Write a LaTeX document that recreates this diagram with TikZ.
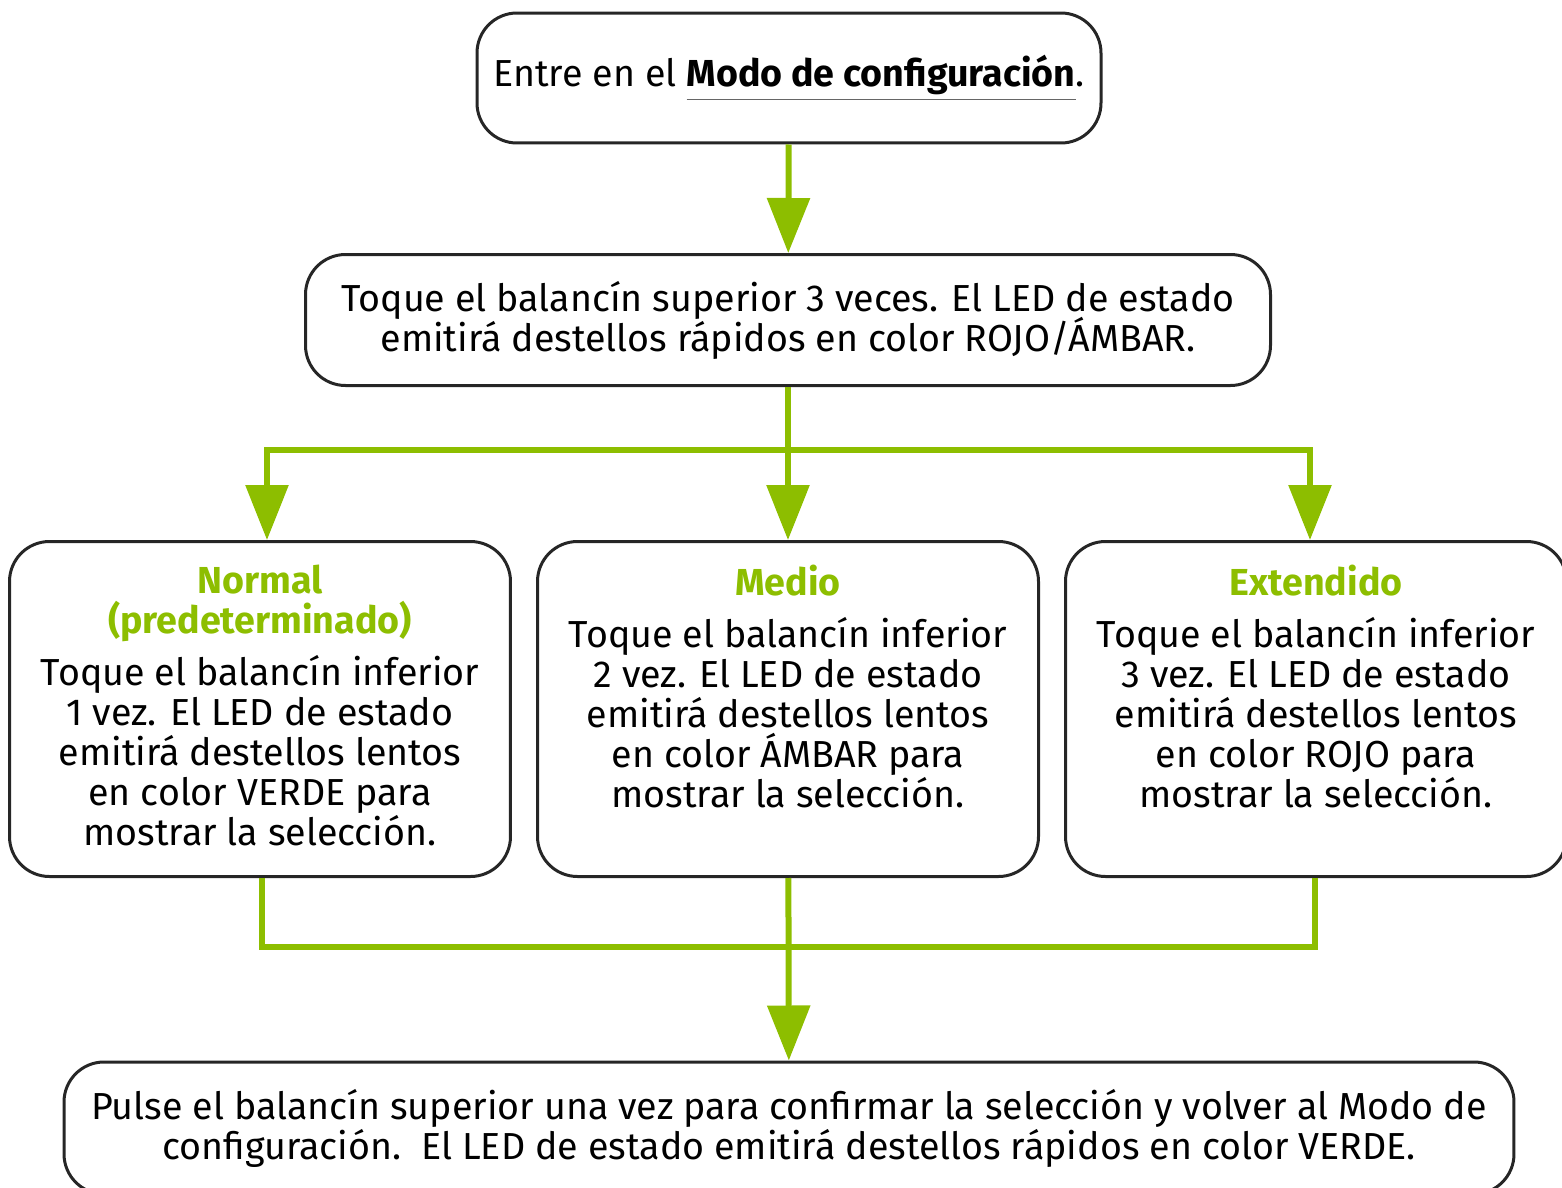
\documentclass[tikz,border=0pt]{standalone}
\usepackage{fontspec}
\setmainfont{Fira Sans}
\usetikzlibrary{arrows.meta,positioning}
\definecolor{ledgreen}{RGB}{141,190,0}
\newcommand{\boxfont}{\fontsize{10.7}{11.4}\selectfont\lineskiplimit=-6pt\relax}
\newcommand{\modo}[1]{\textcolor{ledgreen}{\textbf{#1}}}

\begin{document}
\begin{tikzpicture}[x=0.1mm,y=-0.1mm,
    every node/.style={font=\boxfont},
    box/.style={draw=black!85, line width=0.3mm, rounded corners=4mm, align=center},
    flow/.style={draw=ledgreen, line width=0.6mm, -{Triangle[width=4.2mm,length=5.5mm]}},
    flowline/.style={draw=ledgreen, line width=0.6mm}]
    \useasboundingbox (0,0) rectangle (1562,1188);

    \node[box, minimum width=62.4mm, minimum height=13mm] (entrar) at (789,78)
      {Entre en el {\color{black!60}\underline{\textcolor{black}{\textbf{Modo de configuración}}}}.};
    \node[box, minimum width=96.5mm, minimum height=13.1mm] (toque) at (788,320)
      {Toque el balancín superior 3 veces. El LED de estado\\emitirá destellos rápidos en color ROJO/ÁMBAR.};

    \node[box, minimum width=50.1mm, minimum height=33.5mm] (normal) at (260,709) {};
    \node[box, minimum width=50.1mm, minimum height=33.5mm] (medio) at (788,709) {};
    \node[box, minimum width=50.1mm, minimum height=33.5mm] (extendido) at (1316,709) {};

    \node[below=2.4mm of normal.north, inner sep=0, align=center] (normaltxt)
      {\modo{Normal}\\\modo{(predeterminado)}\\[1.2mm]Toque el balancín inferior\\1 vez. El LED de estado\\emitirá destellos lentos\\en color VERDE para\\mostrar la selección.};
    \node[below=2.4mm of medio.north, inner sep=0, align=center] (mediotxt)
      {\modo{Medio}\\[1.2mm]Toque el balancín inferior\\2 vez. El LED de estado\\emitirá destellos lentos\\en color ÁMBAR para\\mostrar la selección.};
    \node[below=2.4mm of extendido.north, inner sep=0, align=center] (extendidotxt)
      {\modo{Extendido}\\[1.2mm]Toque el balancín inferior\\3 vez. El LED de estado\\emitirá destellos lentos\\en color ROJO para\\mostrar la selección.};

    \node[box, minimum width=145mm, minimum height=13.2mm] (pulse) at (789,1128)
      {Pulse el balancín superior una vez para confirmar la selección y volver al Modo de\\configuración.\ \ El LED de estado emitirá destellos rápidos en color VERDE.};

    % ramas
    \coordinate (split) at (789,450);
    \coordinate (join) at (789,947);

    \draw[flow] (entrar) -- (toque);
    \draw[flow] (toque) -- (medio);
    \draw[flow] (split) -| ([xshift=0.7mm]normal.north);
    \draw[flow] (split) -| ([xshift=-0.6mm]extendido.north);
    \draw[flowline] ([xshift=0.2mm]normal.south) |- (join) -| ([xshift=-0.1mm]extendido.south);
    \draw[flow] (medio) -- (pulse);
\end{tikzpicture}
\end{document}
